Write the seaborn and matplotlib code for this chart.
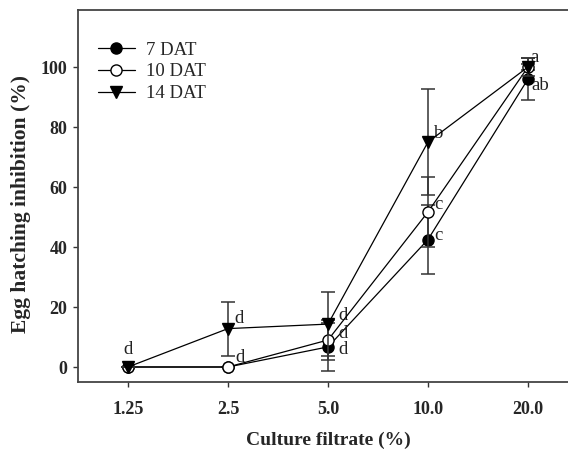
import matplotlib
matplotlib.use("Agg")
import matplotlib.pyplot as plt
import seaborn as sns
import numpy as np
import pandas as pd

categories = ["1.25", "2.5", "5.0", "10.0", "20.0"]
dat7 = [0, 0, 6.7, 42.5, 96]
dat7_err = [0, 0, 8, 11.5, 7]
dat10 = [0, 0, 9, 51.7, 100]
dat10_err = [0, 0, 6.7, 11.7, 1]
dat14 = [0, 12.8, 14.3, 75, 100]
dat14_err = [0, 9, 10.7, 17.7, 3]
y_ticks = [0, 20, 40, 60, 80, 100]

# significance letters: (category index, label, y position, x offset)
letters = [
    (0, "d", 5.7, 0.0),
    (1, "d", 16.3, 0.11),
    (1, "d", 3.0, 0.12),
    (2, "d", 17.0, 0.15),
    (2, "d", 11.0, 0.15),
    (2, "d", 5.7, 0.15),
    (3, "b", 78.0, 0.11),
    (3, "c", 54.3, 0.1),
    (3, "c", 43.7, 0.1),
    (4, "a", 103.3, 0.07),
    (4, "ab", 93.7, 0.12),
]

sns.set_theme(style="ticks")
plt.rcParams["font.family"] = ["Liberation Serif", "DejaVu Serif"]

fig = plt.figure(figsize=(5.68, 4.53), dpi=100)
ax = fig.add_axes([78 / 568, 71 / 453, 500 / 568, 372 / 453])

x = np.arange(len(categories))
series = [
    ("7 DAT", dat7, dat7_err, "o", "black"),
    ("10 DAT", dat10, dat10_err, "o", "white"),
    ("14 DAT", dat14, dat14_err, "v", "black"),
]

for i, (name, vals, errs, mk, fc) in enumerate(series):
    ax.errorbar(x, vals, yerr=errs, fmt="none", ecolor="#333333",
                elinewidth=1.1, capsize=5, capthick=1.1, zorder=2 + i)
    df = pd.DataFrame({"x": x, "y": vals})
    sns.lineplot(data=df, x="x", y="y", ax=ax, color="black", linewidth=0.9,
                 marker=mk, markersize=9 if mk == "v" else 8,
                 markerfacecolor=fc, markeredgecolor="black",
                 markeredgewidth=1.0, label=name, zorder=3 + i)

for ci, txt, yv, dx in letters:
    ax.text(x[ci] + dx, yv, txt, fontsize=13.5, ha="center", va="center",
            color="#222222")

ax.set_xlim(-0.5, 4.5)
ax.set_ylim(-5, 119)
ax.set_xticks(x)
ax.set_xticklabels(categories, fontsize=13, fontweight="bold")
ax.set_yticks(y_ticks)
ax.set_yticklabels([str(t) for t in y_ticks], fontsize=13, fontweight="bold")
ax.tick_params(direction="out", length=3.5, width=1, color="#333333")
ax.tick_params(axis="y", pad=4)
ax.tick_params(axis="x", pad=10)

ax.set_xlabel("Culture filtrate (%)", fontsize=14, fontweight="bold", labelpad=10)
ax.set_ylabel("Egg hatching inhibition (%)", fontsize=15.5, fontweight="bold")
ax.yaxis.set_label_coords(-0.094, 0.478)

for s in ["left", "bottom", "top"]:
    ax.spines[s].set_visible(True)
    ax.spines[s].set_color("#444444")
    ax.spines[s].set_linewidth(1.3)
ax.spines["right"].set_visible(False)

leg = ax.legend(loc="upper left", bbox_to_anchor=(90 / 568, 1 - 34 / 453),
                bbox_transform=fig.transFigure, frameon=False, fontsize=13.5,
                handlelength=2.0, handletextpad=0.6, labelspacing=0.25,
                borderaxespad=0)

fig.savefig("out.png", dpi=100)
